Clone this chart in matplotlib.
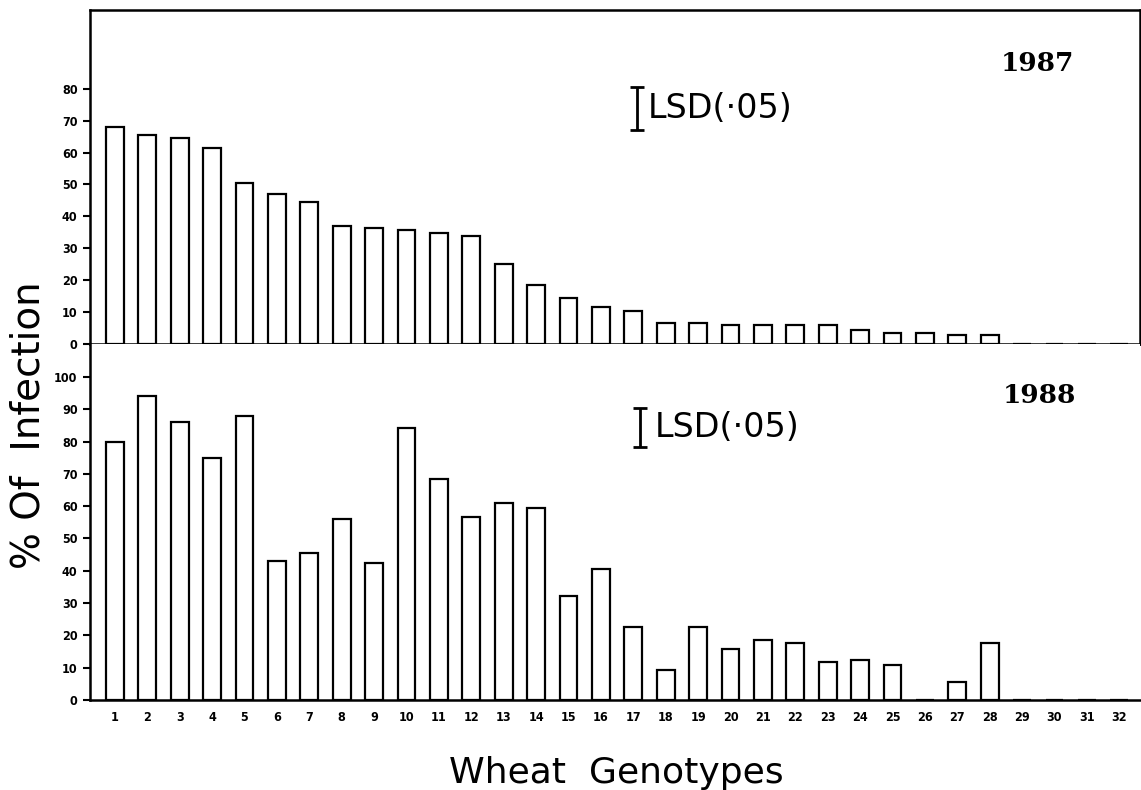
import numpy as np
import matplotlib
matplotlib.use("Agg")
import matplotlib.pyplot as plt

genotypes = np.arange(1, 33)

infection_1987 = [68, 65.5, 64.5, 61.5, 50.5, 47, 44.5, 37, 36.4, 35.7,
                  34.8, 33.9, 25, 18.5, 14.5, 11.6, 10.4, 6.5, 6.5, 6,
                  6, 6, 5.8, 4.4, 3.4, 3.4, 2.9, 2.9, 0, 0, 0, 0]
infection_1988 = [80, 94, 86.2, 74.8, 88, 43.1, 45.4, 55.9, 42.5, 84.3,
                  68.4, 56.6, 60.9, 59.5, 32.3, 40.5, 22.5, 9.3, 22.5, 15.8,
                  18.6, 17.5, 11.9, 12.4, 10.8, 0, 5.5, 17.5, 0, 0, 0, 0]
lsd_1987 = 13.5
lsd_1988 = 12.0

fig = plt.figure(figsize=(11.41, 7.9), dpi=100)
ax1 = fig.add_axes([0.0789, 0.5646, 0.9205, 0.4227])
ax2 = fig.add_axes([0.0789, 0.1139, 0.9205, 0.4507])

tick_font = dict(family="DejaVu Sans", fontweight="bold", fontstretch="condensed", fontsize=9)

for ax, vals, top, yticks in [(ax1, infection_1987, 104.7, np.arange(0, 81, 10)),
                              (ax2, infection_1988, 110.2, np.arange(0, 101, 10))]:
    # zero bars are drawn too but vanish into the baseline
    ax.bar(genotypes, vals, width=0.55, facecolor="white", edgecolor="black", linewidth=1.6)
    ax.set_xlim(0.23, 32.65)
    ax.set_ylim(0, top)
    ax.set_yticks(yticks)
    ax.set_yticklabels([str(v) for v in yticks], **tick_font)
    ax.tick_params(axis="y", direction="out", length=5, width=1.5, pad=4)
    for s in ax.spines.values():
        s.set_linewidth(1.8)

ax1.set_xticks([])
ax2.spines["top"].set_visible(False)
ax2.spines["right"].set_visible(False)
ax2.set_xticks(genotypes)
ax2.set_xticklabels([str(g) for g in genotypes], **tick_font)
ax2.tick_params(axis="x", length=0, pad=8)

# LSD bars
ax1.errorbar([17.1], [73.8], yerr=[lsd_1987 / 2], fmt="none", ecolor="black",
             elinewidth=2, capsize=5, capthick=2)
ax1.text(17.45, 73.8, "LSD(·05)", fontsize=24, va="center", ha="left", family="DejaVu Sans")
ax2.errorbar([17.2], [84.4], yerr=[lsd_1988 / 2], fmt="none", ecolor="black",
             elinewidth=2, capsize=5, capthick=2)
ax2.text(17.65, 84.4, "LSD(·05)", fontsize=24, va="center", ha="left", family="DejaVu Sans")

ax1.text(0.902, 0.84, "1987", transform=ax1.transAxes, fontsize=19, fontweight="bold",
         family="DejaVu Serif", ha="center", va="center")
ax2.text(0.904, 0.855, "1988", transform=ax2.transAxes, fontsize=19, fontweight="bold",
         family="DejaVu Serif", ha="center", va="center")

fig.text(0.025, 0.462, "% Of  Infection", rotation=90, fontsize=28, ha="center", va="center",
         family="DejaVu Sans")
fig.text(0.54, 0.022, "Wheat  Genotypes", fontsize=26, ha="center", va="center",
         family="DejaVu Sans")

fig.savefig("out.png", dpi=100)
